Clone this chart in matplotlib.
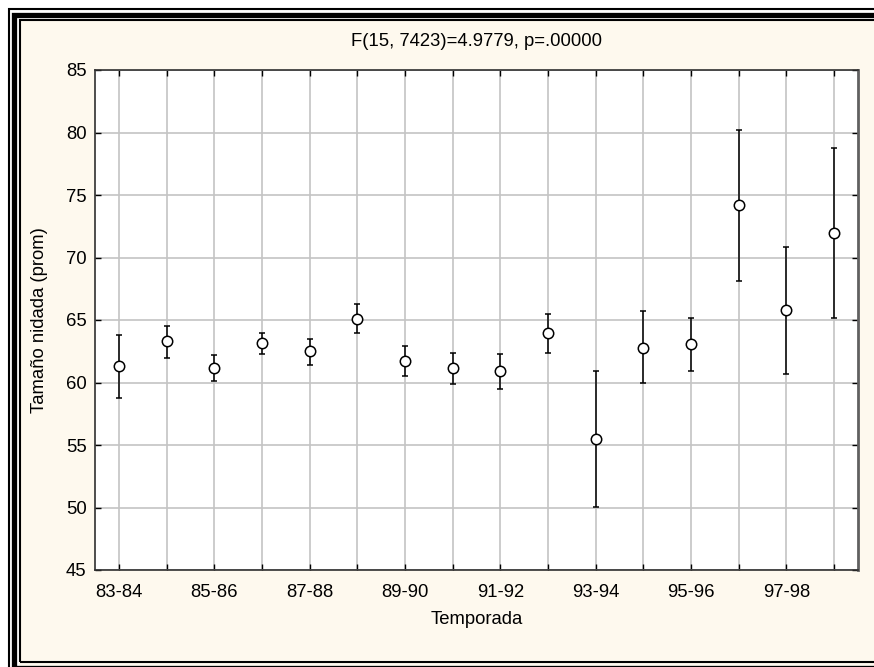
import matplotlib
matplotlib.use("Agg")
import matplotlib.pyplot as plt
from matplotlib.patches import Rectangle
import numpy as np

plt.rcParams['font.family'] = ['Liberation Sans', 'DejaVu Sans']

seasons = ["83-84", "84-85", "85-86", "86-87", "87-88", "88-89", "89-90", "90-91",
           "91-92", "92-93", "93-94", "94-95", "95-96", "96-97", "97-98", "98-99"]
means = [61.3, 63.3, 61.2, 63.2, 62.5, 65.1, 61.7, 61.2,
         60.9, 64.0, 55.5, 62.8, 63.1, 74.2, 65.8, 72.0]
upper = [63.8, 64.5, 62.2, 64.0, 63.5, 66.3, 62.95, 62.4,
         62.3, 65.5, 60.9, 65.7, 65.2, 80.2, 70.85, 78.75]
lower = [58.8, 62.0, 60.1, 62.3, 61.4, 64.0, 60.5, 59.9,
         59.45, 62.4, 50.05, 59.95, 60.95, 68.15, 60.7, 65.2]
title = "F(15, 7423)=4.9779, p=.00000"
xlabel = "Temporada"
ylabel = "Tamaño nidada (prom)"

W, H = 874, 667
cream = '#FEF9EE'
fs = 13.3
fig = plt.figure(figsize=(W / 100, H / 100), dpi=100, facecolor='white')

def px_rect(x0, y0, x1, y1, **kw):
    # pixel coords from top-left
    r = Rectangle((x0 / W, 1 - y1 / H), (x1 - x0) / W, (y1 - y0) / H,
                  transform=fig.transFigure, **kw)
    fig.add_artist(r)

px_rect(19, 19, 1000, 680, facecolor=cream, edgecolor='none', zorder=0)
px_rect(9, 9, 1000, 700, facecolor='none', edgecolor='black', linewidth=1.5, zorder=1)
px_rect(14.5, 14.5, 1000, 667.5, facecolor='none', edgecolor='black', linewidth=3.8, zorder=1)
px_rect(20, 20, 1000, 662, facecolor='none', edgecolor='black', linewidth=1.5, zorder=1)

ax = fig.add_axes([95 / W, 1 - 570 / H, 763 / W, 500 / H])
ax.set_facecolor('white')
x = np.arange(len(seasons))
m = np.array(means)
yerr = np.vstack([m - np.array(lower), np.array(upper) - m])
ax.errorbar(x, m, yerr=yerr, fmt='o', color='black', ecolor='black', elinewidth=1.1,
            capsize=2.4, capthick=1.1, markersize=7.5, markerfacecolor='white',
            markeredgecolor='black', markeredgewidth=1.1, zorder=3)

ax.set_xlim(-0.5, len(seasons) - 0.5)
ax.set_ylim(45, 85)
ax.set_yticks(np.arange(45, 86, 5))
ax.set_xticks(x)
ax.set_xticklabels([s if i % 2 == 0 else '' for i, s in enumerate(seasons)])
ax.grid(True, color='#C4C4C4', linewidth=1.2, zorder=0)
ax.set_axisbelow(True)
ax.tick_params(direction='in', length=4, width=1, color='black', labelsize=fs,
               top=True, right=True)
ax.tick_params(axis='x', pad=10)
ax.tick_params(axis='y', pad=6)
for s in ['left', 'top', 'bottom']:
    ax.spines[s].set_color('#303030')
    ax.spines[s].set_linewidth(1.2)
ax.spines['right'].set_color('#606060')
ax.spines['right'].set_linewidth(2)

ax.set_xlabel(xlabel, fontsize=fs, va='center')
ax.xaxis.set_label_coords(0.5, (570 - 619) / 500)
ax.set_ylabel(ylabel, fontsize=fs, va='center')
ax.yaxis.set_label_coords((40 - 95) / 763, 0.5)
fig.text((95 + 858) / 2 / W, 1 - 42 / H, title, ha='center', va='center', fontsize=fs)

fig.savefig('out.png', dpi=100, facecolor=fig.get_facecolor())
